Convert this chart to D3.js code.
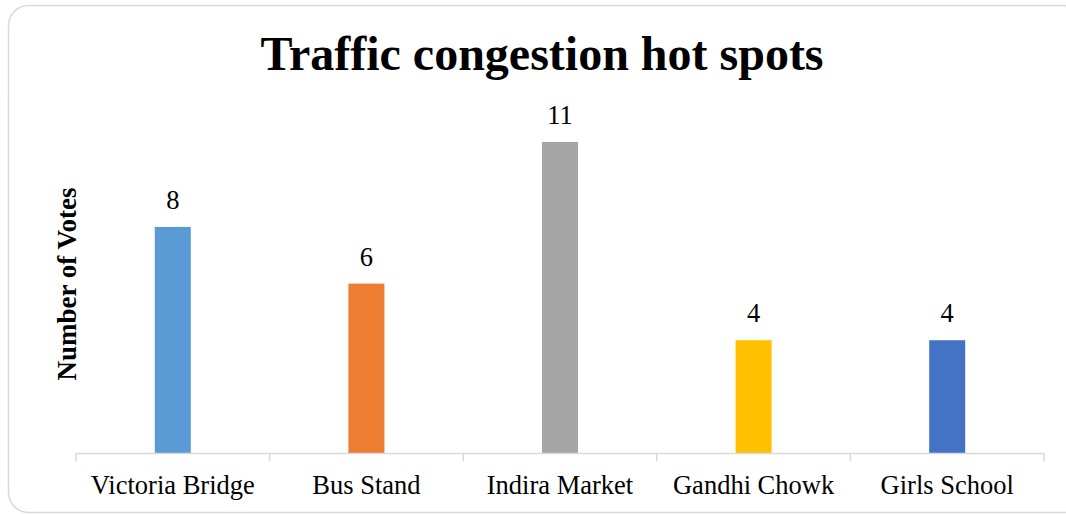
<!DOCTYPE html>
<head>
  <meta charset="utf-8">
  <script src="https://d3js.org/d3.v7.min.js"></script>
  <style>
    body { margin:0; background:#fff; }
    text { font-family: "Liberation Serif", "Times New Roman", serif; fill:#000; }
  </style>
</head>
<body>
<script>

/* Data */
var spots = ['Victoria Bridge', 'Bus Stand', 'Indira Market', 'Gandhi Chowk', 'Girls School'];
var votes = [8, 6, 11, 4, 4];
var colours = ['#5B9BD5', '#ED7D31', '#A5A5A5', '#FFC000', '#4472C4'];

var width = 1066,
    height = 514;

var svg = d3.select('body')
  .append('svg')
    .attr('width', width)
    .attr('height', height);

// chart frame
svg.append('rect')
    .attr('x', 8.5)
    .attr('y', 5.5)
    .attr('width', 1075)
    .attr('height', 507)
    .attr('rx', 20)
    .attr('fill', '#fff')
    .attr('stroke', '#d9d9d9')
    .attr('stroke-width', 1.5);

var x = d3.scaleBand()
    .domain(spots)
    .range([76, 1044])
    .paddingInner(0.814)
    .paddingOuter(0.407);

// outer band boundaries for the tick marks
var step = (1044 - 76) / spots.length;

var y = d3.scaleLinear()
    .domain([0, 11])
    .range([453.5, 142]);

// bars
svg.selectAll('rect.bar')
    .data(votes)
    .enter().append('rect')
    .attr('class', 'bar')
    .attr('x', function(d, i) { return x(spots[i]); })
    .attr('y', function(d) { return y(d); })
    .attr('width', x.bandwidth())
    .attr('height', function(d) { return y(0) - y(d); })
    .attr('fill', function(d, i) { return colours[i]; });

// value labels
svg.selectAll('text.value')
    .data(votes)
    .enter().append('text')
    .attr('class', 'value')
    .attr('x', function(d, i) { return x(spots[i]) + x.bandwidth() / 2; })
    .attr('y', function(d) { return y(d) - 18; })
    .attr('text-anchor', 'middle')
    .style('font-size', '26.5px')
    .text(function(d) { return d; });

// x axis
var axis = svg.append('g')
    .attr('transform', 'translate(0,' + y(0) + ')');

axis.append('line')
    .attr('x1', 76).attr('x2', 1044)
    .attr('stroke', '#d9d9d9')
    .attr('stroke-width', 1.5);

axis.selectAll('line.tick')
    .data(d3.range(spots.length + 1))
    .enter().append('line')
    .attr('class', 'tick')
    .attr('x1', function(i) { return 76 + i * step; })
    .attr('x2', function(i) { return 76 + i * step; })
    .attr('y1', 0).attr('y2', 8)
    .attr('stroke', '#d9d9d9')
    .attr('stroke-width', 1.5);

axis.selectAll('text.cat')
    .data(spots)
    .enter().append('text')
    .attr('class', 'cat')
    .attr('x', function(d) { return x(d) + x.bandwidth() / 2; })
    .attr('y', 40.5)
    .attr('text-anchor', 'middle')
    .style('font-size', '26.5px')
    .text(function(d) { return d; });

// title
svg.append('text')
    .attr('x', 542)
    .attr('y', 70)
    .attr('text-anchor', 'middle')
    .style('font-size', '48px')
    .style('font-weight', 'bold')
    .text('Traffic congestion hot spots');

// y axis title
svg.append('text')
    .attr('transform', 'translate(76,284) rotate(-90)')
    .attr('text-anchor', 'middle')
    .style('font-size', '27px')
    .style('font-weight', 'bold')
    .text('Number of Votes');

</script>
</body>
